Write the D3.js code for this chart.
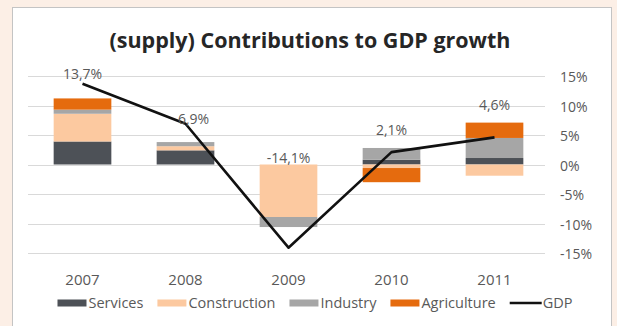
<!DOCTYPE html>
<meta charset="utf-8">
<script src="https://cdn.jsdelivr.net/npm/d3@7"></script>
<style>
  body { margin: 0; background: #fcefe6; }
  text { font-family: "Open Sans", sans-serif; }
</style>
<svg></svg>
<script>
// chart values (percent)
var years = ["2007", "2008", "2009", "2010", "2011"];
var services     = [3.9, 2.4, 0.0, 0.8, 1.1];
var construction = [4.7, 0.7, -8.9, -0.6, -1.9];
var industry     = [0.7, 0.7, -1.7, 2.0, 3.4];
var agriculture  = [1.9, 0.0, 0.0, -2.4, 2.6];
var gdp          = [13.7, 6.9, -14.1, 2.1, 4.6];
var gdpLabels    = ["13,7%", "6,9%", "-14,1%", "2,1%", "4,6%"];
// where the value labels sit (in % units, as placed in the original)
var labelAt      = [15.4, 7.7, 1.1, 5.9, 10.0];
var yTicks       = [15, 10, 5, 0, -5, -10, -15];

var W = 617, H = 326;
var seriesNames = ["Services", "Construction", "Industry", "Agriculture"];
var colors = {
  Services: "#4d5157",
  Construction: "#fcc9a0",
  Industry: "#a6a6a6",
  Agriculture: "#e56b0e"
};

var svg = d3.select("svg").attr("width", W).attr("height", H);

// white chart panel
svg.append("rect")
   .attr("x", 12.5).attr("y", 7.5)
   .attr("width", 599).attr("height", 340)
   .attr("fill", "#ffffff")
   .attr("stroke", "#c4c4c4");

svg.append("text")
   .attr("x", 310).attr("y", 48)
   .attr("text-anchor", "middle")
   .attr("font-size", 21.5)
   .attr("font-weight", "bold")
   .attr("fill", "#262626")
   .text("(supply) Contributions to GDP growth");

var x = d3.scaleBand().domain(years).range([31, 546]).paddingInner(0.44).paddingOuter(0.22);
var y = d3.scaleLinear().domain([-15, 15]).range([253, 76]);

// gridlines
svg.append("g").selectAll("line")
   .data(yTicks).join("line")
   .attr("x1", 28).attr("x2", 545)
   .attr("y1", function(d){ return Math.round(y(d)) + 0.5; })
   .attr("y2", function(d){ return Math.round(y(d)) + 0.5; })
   .attr("stroke", "#d9d9d9");

// right axis labels
var yAxis = d3.axisRight(y).tickValues(yTicks).tickSize(0).tickPadding(0)
              .tickFormat(function(d){ return d + "%"; });
var ya = svg.append("g").attr("transform", "translate(560,1.5)").call(yAxis);
ya.select(".domain").remove();
ya.selectAll("text").attr("font-family", "Open Sans, sans-serif")
  .attr("font-size", 14).attr("fill", "#595959");

// stacked bars
var table = years.map(function(yr, i){
  return { year: yr, Services: services[i], Construction: construction[i],
           Industry: industry[i], Agriculture: agriculture[i] };
});
var stacked = d3.stack().keys(seriesNames).offset(d3.stackOffsetDiverging)(table);

svg.append("g").selectAll("g")
   .data(stacked).join("g")
   .attr("fill", function(s){ return colors[s.key]; })
   .selectAll("rect")
   .data(function(s){ return s; }).join("rect")
   .attr("x", function(d){ return x(d.data.year); })
   .attr("width", x.bandwidth())
   .attr("y", function(d){ return y(Math.max(d[0], d[1])); })
   .attr("height", function(d){ return Math.abs(y(d[0]) - y(d[1])); });

// GDP line
var cx = function(i){ return x(years[i]) + x.bandwidth() / 2; };
var line = d3.line().x(function(d, i){ return cx(i); }).y(function(d){ return y(d); });
svg.append("path")
   .datum(gdp)
   .attr("d", line)
   .attr("fill", "none")
   .attr("stroke", "#111111")
   .attr("stroke-width", 2.6)
   .attr("stroke-linejoin", "round");

// value labels
svg.append("g").selectAll("text")
   .data(gdpLabels).join("text")
   .attr("x", function(d, i){ return cx(i) + (i === 1 ? 8 : 0); })
   .attr("y", function(d, i){ return y(labelAt[i]); })
   .attr("dy", "0.35em")
   .attr("text-anchor", "middle")
   .attr("font-size", 14)
   .attr("fill", "#595959")
   .text(function(d){ return d; });

// x axis labels
var xAxis = d3.axisBottom(x).tickSize(0).tickPadding(0);
var xa = svg.append("g").attr("transform", "translate(0,274)").call(xAxis);
xa.select(".domain").remove();
xa.selectAll("text").attr("font-family", "Open Sans, sans-serif")
  .attr("font-size", 15).attr("fill", "#595959");

// legend
var legendItems = seriesNames.concat(["GDP"]);
var lg = svg.append("g");
var lx = 0, gap = 14;
legendItems.forEach(function(name, i){
  var it = lg.append("g").attr("transform", "translate(" + lx + ",0)");
  if (name === "GDP") {
    it.append("line").attr("x1", 0).attr("x2", 32).attr("y1", 0).attr("y2", 0)
      .attr("stroke", "#111111").attr("stroke-width", 2.4);
  } else {
    it.append("rect").attr("x", 0).attr("y", -3.5).attr("width", 29).attr("height", 7)
      .attr("fill", colors[name]);
  }
  var off = name === "GDP" ? 33 : 31;
  var t = it.append("text").attr("x", off).attr("y", 0).attr("dy", "0.35em")
    .attr("font-size", 14.5).attr("fill", "#595959").text(name);
  lx += off + t.node().getComputedTextLength() + gap;
});
lx -= gap;
lg.attr("transform", "translate(" + (315 - lx / 2) + ",303)");
</script>
